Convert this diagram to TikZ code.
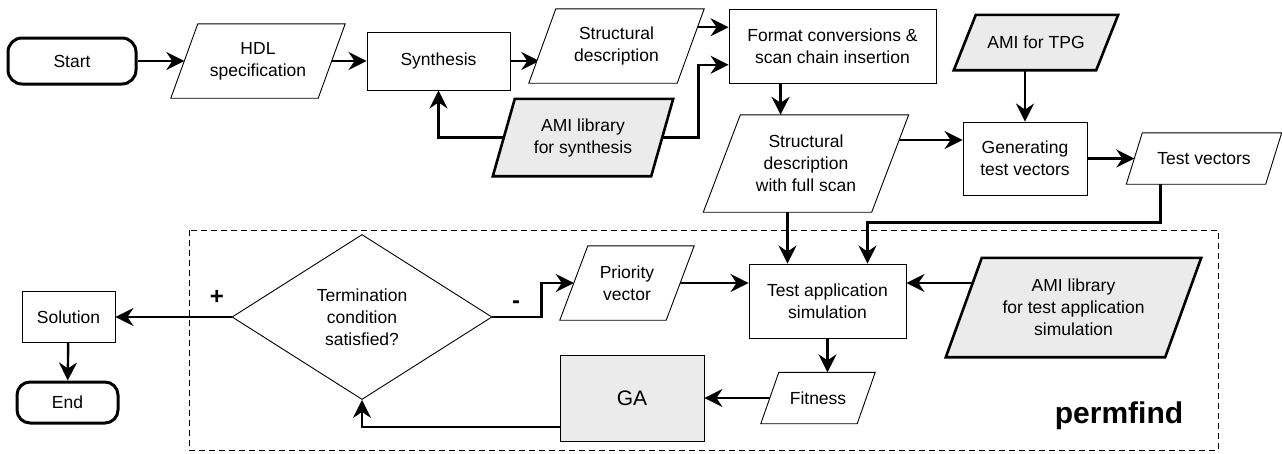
\documentclass[tikz,border=0pt]{standalone}
\usepackage{fontspec}
\setmainfont{Liberation Sans}
\usetikzlibrary{shapes.geometric}
\usetikzlibrary{arrows.meta}
\usetikzlibrary{backgrounds}
\usetikzlibrary{calc}

\definecolor{amigray}{RGB}{235,235,235}

\pgfdeclarelayer{fills}
\pgfsetlayers{background,fills,main}

\tikzset{
  every node/.style={font=\fontsize{17.5}{22}\selectfont, align=center, inner sep=0pt},
  proc/.style={draw, line width=0.9pt, fill=white},
  termbox/.style={draw, line width=3pt, rounded corners=14pt, fill=white},
  io/.style={rectangle},
  ioline/.style={draw, line width=0.9pt, fill=white},
  libline/.style={draw, line width=2.6pt, fill=amigray},
  arr/.style={line width=2.4pt, -{Stealth[length=18pt,width=18pt,inset=6pt]}},
  frame/.style={dash pattern=on 6pt off 4pt, line width=0.9pt},
}

% parallelogram round an io node: #2 node, #3 half of the slant
\newcommand{\ioshape}[3][ioline]{%
  \begin{pgfonlayer}{fills}
    \draw[#1] ([xshift=-#3]#2.south west) -- ([xshift=-#3]#2.south east)
      -- ([xshift=#3]#2.north east) -- ([xshift=#3]#2.north west) -- cycle;
  \end{pgfonlayer}}

\begin{document}
\begin{tikzpicture}[x=1pt, y=-1pt]
  \useasboundingbox (0,0) rectangle (1282,453);

  % upper flow
  \node[termbox, minimum width=128pt, minimum height=46pt] (start) at (72,61) {Start};
  \node[io, minimum width=147pt, minimum height=74pt] (hdl) at (258,61) {HDL\\specification};
  \node[proc, minimum width=143pt, minimum height=58pt] (synth) at (438.5,61) {Synthesis};
  \node[io, minimum width=148pt, minimum height=74pt] (sdesc) at (616.5,46) {Structural\\description};
  \node[proc, minimum width=207pt, minimum height=74pt] (fmt) at (832.5,46) {Format conversions \&\\scan chain insertion};
  \node[io, minimum width=158pt, minimum height=77pt] (amis) at (583,137.5) {AMI library\\for synthesis};
  \node[io, minimum width=168pt, minimum height=97pt] (sfull) at (806,163.5) {Structural\\description\\with full scan};
  \node[io, minimum width=142pt, minimum height=55pt] (tpg) at (1036,42.5) {AMI for TPG};
  \node[proc, minimum width=124pt, minimum height=73pt] (gen) at (1025,158.5) {Generating\\test vectors};
  \node[io, minimum width=139pt, minimum height=51pt] (tvec) at (1204,158.5) {Test vectors};

  \ioshape{hdl}{13.5pt}
  \ioshape{sdesc}{13.5pt}
  \ioshape[libline]{amis}{11pt}
  \ioshape{sfull}{18.5pt}
  \ioshape[libline]{tpg}{11pt}
  \ioshape{tvec}{8pt}

  % permfind loop
  \draw[frame] (189,230) rectangle (1218,450);
  \node[font=\fontsize{30}{32}\selectfont\bfseries] (perm) at (1119,416) {permfind};
  \node[diamond, draw, line width=0.9pt, fill=white, minimum width=260pt, minimum height=165pt] (cond) at (362,317) {Termination\\condition\\satisfied?};
  \node[io, minimum width=106pt, minimum height=74pt] (prio) at (627,283) {Priority\\vector};
  \node[proc, minimum width=157pt, minimum height=74pt] (tapp) at (827.5,301) {Test application\\simulation};
  \node[io, minimum width=219pt, minimum height=99pt] (amit) at (1073.5,307.5) {AMI library\\for test application\\simulation};
  \node[io, minimum width=96pt, minimum height=51pt] (fit) at (818,398) {Fitness};
  \node[proc, fill=amigray, minimum width=144pt, minimum height=86pt, font=\fontsize{21}{24}\selectfont] (ga) at (632,398) {GA};

  \ioshape{prio}{14pt}
  \ioshape[libline]{amit}{18pt}
  \ioshape{fit}{9pt}

  % result
  \node[proc, minimum width=93pt, minimum height=51pt] (sol) at (68.5,317) {Solution};
  \node[termbox, rounded corners=13pt, minimum width=101pt, minimum height=41pt] (endn) at (67.5,402.5) {End};
  \node[font=\fontsize{24}{24}\selectfont\bfseries] (plus) at (217,297) {+};
  \node[font=\fontsize{24}{24}\selectfont\bfseries] (minus) at (516,305) {-};

  \coordinate (a1) at ($(fmt.north west)!0.25!(fmt.south west)$);
  \coordinate (a2) at ($(fmt.north west)!0.75!(fmt.south west)$);
  \coordinate (b1) at ([xshift=40pt]tapp.north);
  \coordinate (b2) at ([xshift=-40pt]tapp.north);

  \begin{pgfonlayer}{background}
    \draw[arr] (start) -- (hdl);
    \draw[arr] (hdl) -- (synth);
    \draw[arr] (synth.center) -- ([xshift=-3pt]synth.center -| sdesc.west);
    \draw[arr] (a1 -| sdesc.center) -- (a1);
    \draw[arr] (amis.center) -| (synth.south);
    \draw[arr] (amis.center) -| ([xshift=-30pt]a2) -- (a2);
    \draw[arr] ([xshift=52pt]fmt.south west) -- ([xshift=52pt]fmt.south west |- sfull.north);
    \draw[arr] ([yshift=18.5pt]gen.west -| sfull.center) -- ([yshift=18.5pt]gen.west);
    \draw[arr] (tpg.center -| gen.north) -- (gen.north);
    \draw[arr] (gen) -- (tvec);
    \draw[arr] ([xshift=-43.5pt]tvec.center) |- ([yshift=41pt]b1) -- (b1);
    \draw[arr] (sfull.center -| b2) -- (b2);
    \draw[arr] (cond) -- (sol);
    \draw[arr] (sol) -- (endn);
    \draw[arr] (cond.east) -- ++(49,0) |- (prio.west);
    \draw[arr] (prio.center) -- (prio.center -| tapp.west);
    \draw[arr] (prio.center -| amit.center) -- (prio.center -| tapp.east);
    \draw[arr] (tapp.south) -- (tapp.south |- fit.north);
    \draw[arr] (fit) -- (ga);
    \draw[arr] ([yshift=-29pt]ga.center) -| (cond.south);
  \end{pgfonlayer}
\end{tikzpicture}
\end{document}
